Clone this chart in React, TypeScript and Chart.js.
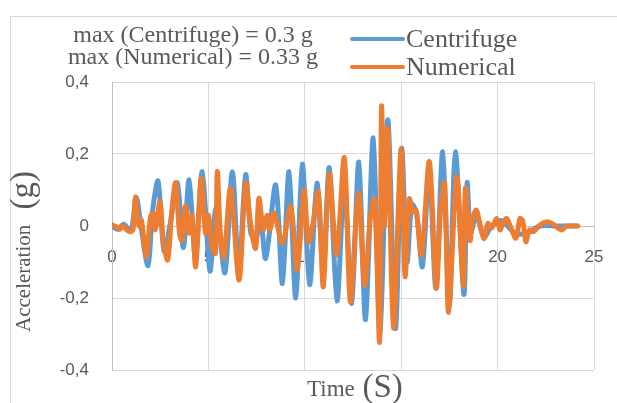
import React, { useEffect, useRef } from "react";
import { Chart, registerables } from "chart.js";

Chart.register(...registerables);

// ---------- data ----------
const centrifugeTime = [0, 0.3, 0.6, 0.9, 1.05, 1.26, 1.5, 1.87, 2.1, 2.39, 2.7, 3.0, 3.39, 3.7, 4.0, 4.33, 4.68, 5.08, 5.4, 5.86, 6.24, 6.58, 6.93, 7.2, 7.45, 7.7, 7.97, 8.49, 8.84, 9.18, 9.53, 9.87, 10.25, 10.63, 10.95, 11.27, 11.67, 12.05, 12.43, 12.8, 13.15, 13.55, 13.9, 14.3, 14.7, 15.02, 15.3, 15.55, 15.8, 16.1, 16.45, 16.8, 17.15, 17.5, 17.81, 18.25, 18.42, 18.6, 18.9, 19.3, 19.7, 20.2, 20.9, 21.5, 22.2, 23.0, 24.1];
const centrifugeAcc = [0, -0.01, 0.005, -0.01, 0.0, 0.08, 0.0, -0.11, 0.04, 0.125, -0.07, 0.0, 0.12, -0.06, 0.128, -0.09, 0.151, -0.125, 0.05, -0.13, 0.151, -0.13, 0.142, -0.02, -0.04, 0.02, -0.09, 0.114, -0.16, 0.151, -0.2, 0.172, -0.163, 0.119, -0.12, 0.162, -0.208, 0.12, -0.215, 0.178, -0.26, 0.245, -0.3, 0.295, -0.285, 0.215, -0.1, 0.06, 0.035, -0.113, 0.16, -0.173, 0.206, -0.215, 0.206, -0.19, 0.12, -0.02, 0.03, -0.03, 0.0, 0.015, -0.02, -0.02, 0.0, 0.0, 0.0];

const numericalTime = [0, 0.22, 0.4, 0.57, 0.74, 0.92, 1.09, 1.21, 1.4, 1.52, 1.78, 2.0, 2.13, 2.25, 2.49, 2.65, 2.89, 3.1, 3.3, 3.5, 3.63, 3.8, 4.0, 4.15, 4.34, 4.62, 4.85, 5.0, 5.2, 5.37, 5.46, 5.62, 5.81, 6.15, 6.59, 6.93, 7.2, 7.45, 7.62, 7.85, 8.05, 8.2, 8.4, 8.84, 9.27, 9.61, 9.96, 10.18, 10.4, 10.7, 10.96, 11.27, 11.65, 12.05, 12.36, 12.78, 13.1, 13.4, 13.62, 13.88, 13.98, 14.12, 14.3, 14.6, 14.99, 15.2, 15.42, 15.6, 15.77, 16.05, 16.46, 16.82, 17.05, 17.25, 17.46, 17.88, 18.22, 18.33, 18.57, 18.7, 18.9, 19.1, 19.3, 19.5, 19.7, 19.95, 20.12, 20.3, 20.47, 20.67, 20.95, 21.16, 21.3, 21.47, 21.65, 21.85, 22.2, 22.55, 22.8, 23.0, 23.32, 23.58, 23.9, 24.15];
const numericalAcc = [0.003, -0.002, -0.009, 0, -0.009, -0.016, -0.011, 0.08, 0.0, 0.017, -0.085, 0.026, 0.035, -0.01, 0.068, -0.04, -0.094, 0.04, 0.12, -0.02, -0.04, 0.055, -0.02, 0.03, -0.113, 0.132, -0.02, 0.03, -0.06, -0.076, 0.151, -0.02, -0.085, 0.105, -0.15, 0.119, 0.0, -0.062, 0.077, -0.01, 0.03, -0.01, 0.036, -0.047, 0.054, -0.122, 0.1, -0.044, 0.0, 0.095, -0.169, 0.145, -0.08, 0.19, -0.21, 0.091, -0.164, 0.02, 0.075, -0.322, 0.332, 0.0, 0.27, -0.284, 0.213, -0.14, 0.075, 0.04, 0.044, -0.08, 0.179, -0.172, 0.05, 0.119, -0.24, 0.137, -0.167, 0.105, -0.04, 0.02, 0.044, 0.0, -0.035, 0.007, -0.005, 0.021, -0.011, 0.01, 0.021, -0.002, -0.034, 0.021, 0.015, -0.044, -0.011, -0.016, 0.003, 0.012, 0.008, 0.0, -0.011, 0.0, 0.0, 0.0];

const xTicks = [0, 5, 10, 15, 20, 25];
const yTicks = [-0.4, -0.2, 0, 0.2, 0.4];
const seriesNames = ["Centrifuge", "Numerical"];
const seriesColors = ["#5b9bd5", "#ed7d31"];
const annotationLines = ["max (Centrifuge) = 0.3 g", "max (Numerical) = 0.33 g"];
const xTitleParts = ["Time ", "(S)"];
const yTitleParts = ["Acceleration ", "(g)"];

const W = 617;
const H = 403;
const TEXT = "#595959";
const SERIF = "'Liberation Serif', 'Times New Roman', serif";

function toPoints(t: number[], a: number[]) {
  const n = Math.min(t.length, a.length);
  const out: { x: number; y: number }[] = [];
  for (let i = 0; i < n; i++) out.push({ x: t[i], y: a[i] });
  return out;
}

const decorPlugin = {
  id: "decor",
  beforeDraw(chart: any) {
    const ctx = chart.ctx as CanvasRenderingContext2D;
    ctx.save();
    ctx.fillStyle = "#ffffff";
    ctx.fillRect(0, 0, W, H);
    ctx.strokeStyle = "#d9d9d9";
    ctx.lineWidth = 1;
    ctx.strokeRect(10.5, 16.5, W + 40, H + 40);
    ctx.restore();
  },
  afterDraw(chart: any) {
    const ctx = chart.ctx as CanvasRenderingContext2D;
    ctx.save();
    ctx.fillStyle = TEXT;
    ctx.textBaseline = "alphabetic";

    // annotation
    ctx.font = `24px ${SERIF}`;
    ctx.textAlign = "center";
    ctx.fillText(annotationLines[0], 193, 42);
    ctx.fillText(annotationLines[1], 193, 64);

    // legend
    ctx.textAlign = "left";
    ctx.font = `26px ${SERIF}`;
    const legY = [39, 67];
    for (let i = 0; i < seriesNames.length; i++) {
      ctx.strokeStyle = seriesColors[i];
      ctx.lineWidth = 4;
      ctx.lineCap = "round";
      ctx.beginPath();
      ctx.moveTo(352, legY[i]);
      ctx.lineTo(403, legY[i]);
      ctx.stroke();
      ctx.fillStyle = TEXT;
      ctx.fillText(seriesNames[i], 406, legY[i] + 8);
    }

    // x title
    ctx.font = `23px ${SERIF}`;
    const w1 = ctx.measureText(xTitleParts[0]).width;
    ctx.fillText(xTitleParts[0], 307, 396);
    ctx.font = `33px ${SERIF}`;
    ctx.fillText(xTitleParts[1], 307 + w1 + 2, 397);

    // y title
    ctx.save();
    ctx.translate(30, 332);
    ctx.rotate(-Math.PI / 2);
    ctx.font = `21px ${SERIF}`;
    const yw1 = ctx.measureText(yTitleParts[0]).width;
    ctx.fillText(yTitleParts[0], 0, 0);
    ctx.font = `33px ${SERIF}`;
    ctx.fillText(yTitleParts[1], yw1 + 10, 3);
    ctx.restore();

    ctx.restore();
  },
};

export default function App() {
  const ref = useRef<HTMLCanvasElement | null>(null);

  useEffect(() => {
    if (!ref.current) return;
    const chart = new Chart(ref.current, {
      type: "line",
      data: {
        datasets: [
          {
            label: seriesNames[0],
            data: toPoints(centrifugeTime, centrifugeAcc),
            borderColor: seriesColors[0],
            backgroundColor: seriesColors[0],
            borderWidth: 5,
            pointRadius: 0,
            tension: 0.3,
            borderJoinStyle: "round",
            borderCapStyle: "round",
            order: 2,
          },
          {
            label: seriesNames[1],
            data: toPoints(numericalTime, numericalAcc),
            borderColor: seriesColors[1],
            backgroundColor: seriesColors[1],
            borderWidth: 5,
            pointRadius: 0,
            tension: 0.3,
            borderJoinStyle: "round",
            borderCapStyle: "round",
            order: 1,
          },
        ],
      },
      options: {
        responsive: false,
        animation: false,
        devicePixelRatio: 1,
        layout: { padding: { left: 50, right: 23, top: 82, bottom: 33 } },
        plugins: { legend: { display: false }, tooltip: { enabled: false }, title: { display: false } },
        scales: {
          x: {
            type: "linear",
            position: { y: 0 } as any,
            min: 0,
            max: 25,
            afterBuildTicks: (s: any) => {
              s.ticks = xTicks.map((v) => ({ value: v }));
            },
            afterFit: (s: any) => {
              s.paddingLeft = 0;
              s.paddingRight = 0;
            },
            ticks: {
              padding: 21,
              color: TEXT,
              font: { family: "'Liberation Sans', Arial, sans-serif", size: 17 },
              maxRotation: 0,
              callback: (v: any) => String(v),
            },
            grid: { color: "#d9d9d9", lineWidth: 1, drawTicks: false },
            border: { display: true, color: "#bfbfbf", width: 1 },
          },
          y: {
            type: "linear",
            min: -0.4,
            max: 0.4,
            afterBuildTicks: (s: any) => {
              s.ticks = yTicks.map((v) => ({ value: v }));
            },
            afterFit: (s: any) => {
              s.width = 62;
              s.paddingTop = 0;
              s.paddingBottom = 0;
            },
            ticks: {
              padding: 23,
              color: TEXT,
              font: { family: "'Liberation Sans', Arial, sans-serif", size: 17 },
              callback: (v: any) => {
                const n = Number(v);
                if (Math.abs(n) < 1e-9) return "0";
                return n.toFixed(1).replace(".", ",");
              },
            },
            grid: { color: "#d9d9d9", lineWidth: 1, drawTicks: false },
            border: { display: true, color: "#bfbfbf", width: 1 },
          },
        },
      },
      plugins: [decorPlugin],
    });
    return () => chart.destroy();
  }, []);

  return (
    <div style={{ position: "fixed", left: 0, top: 0, width: W, height: H, background: "#fff" }}>
      <canvas ref={ref} width={W} height={H} style={{ width: W, height: H, display: "block" }} />
    </div>
  );
}
